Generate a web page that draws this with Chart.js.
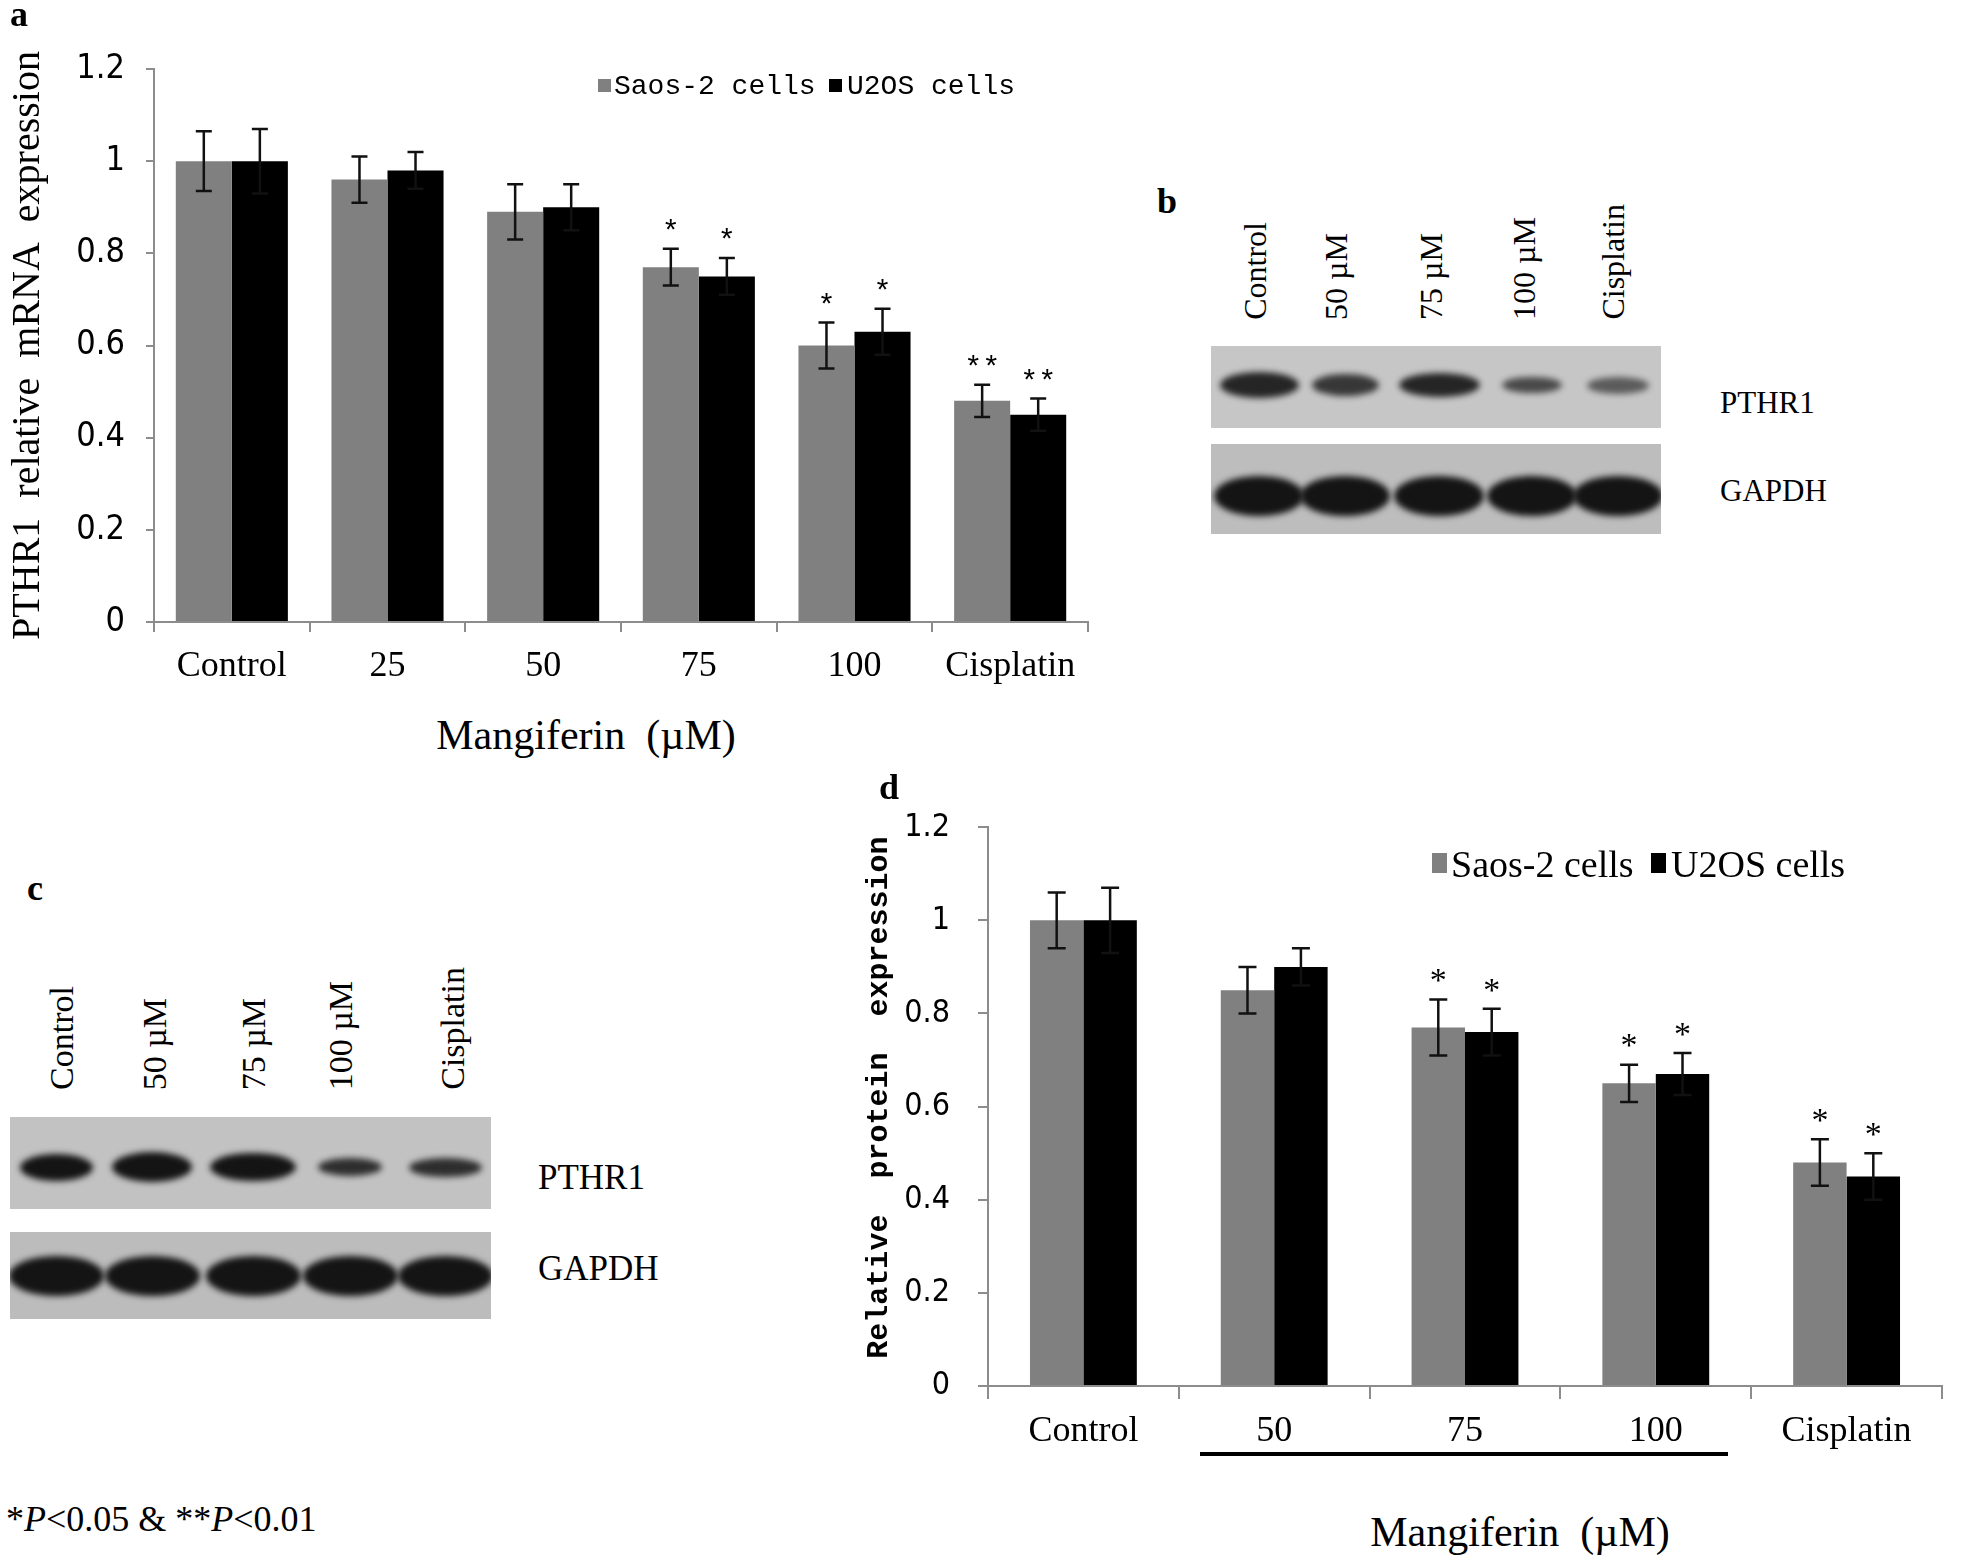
<!DOCTYPE html>
<html>
<head>
<meta charset="utf-8">
<script src="https://cdn.jsdelivr.net/npm/chart.js@4.4.1/dist/chart.umd.min.js"></script>
<style>
html, body { margin: 0; padding: 0; background: #fff; }
#page { position: relative; width: 1961px; height: 1561px; overflow: hidden; font-family: 'Liberation Serif', serif; color: #000; }
canvas { position: absolute; }
.t { position: absolute; white-space: pre; line-height: 1; }
.mid { transform: translateY(-50%); }
.ctr { transform: translate(-50%, -50%); }
.lane { position: absolute; writing-mode: vertical-rl; transform: translateX(-50%) rotate(180deg); white-space: pre; line-height: 1; }
.blot { position: absolute; overflow: hidden; }
.band { position: absolute; border-radius: 50%; background: #141414; filter: blur(3px); }
.key { position: absolute; }
</style>
</head>
<body>
<div id="page">
  <canvas id="chartA" width="1110" height="700" style="left:0;top:0;width:1110px;height:700px"></canvas>
  <canvas id="chartD" width="1110" height="700" style="left:845px;top:780px;width:1110px;height:700px"></canvas>
</div>
<script>
// values
const seriesNames = ['Saos-2 cells', 'U2OS cells']

const categoriesA = ['Control', '25', '50', '75', '100', 'Cisplatin']
const saosA = [1.00, 0.96, 0.89, 0.77, 0.60, 0.48]
const u2osA = [1.00, 0.98, 0.90, 0.75, 0.63, 0.45]
const saosErrA = [0.065, 0.05, 0.06, 0.04, 0.05, 0.035]
const u2osErrA = [0.07, 0.04, 0.05, 0.04, 0.05, 0.035]
const saosStarsA = ['', '', '', '*', '*', '**']
const u2osStarsA = ['', '', '', '*', '*', '**']

const categoriesD = ['Control', '50', '75', '100', 'Cisplatin']
const saosD = [1.00, 0.85, 0.77, 0.65, 0.48]
const u2osD = [1.00, 0.90, 0.76, 0.67, 0.45]
const saosErrD = [0.06, 0.05, 0.06, 0.04, 0.05]
const u2osErrD = [0.07, 0.04, 0.05, 0.045, 0.05]
const saosStarsD = ['', '', '*', '*', '*']
const u2osStarsD = ['', '', '*', '*', '*']

const yMax = 1.2
const yStep = 0.2

const laneLabels = ['Control', '50 µM', '75 µM', '100 µM', 'Cisplatin']
const blotRows = ['PTHR1', 'GAPDH']
// rough band darkness, by eye
const bandsB = [[0.9, 0.8, 0.9, 0.7, 0.6], [1, 1, 1, 1, 1]]
const bandsC = [[1, 1, 1, 0.85, 0.85], [1, 1, 1, 1, 1]]

const page = document.getElementById('page')
const axisGrey = '#8c8c8c'
const narrow = "'Liberation Sans Narrow', 'DejaVu Sans Condensed', 'Liberation Sans', sans-serif"
const mono = "'Liberation Mono', monospace"
const serif = "'Liberation Serif', serif"

Chart.defaults.color = '#000'
Chart.defaults.font.family = serif

const errorBars = {
    id: 'errorBars',
    afterDatasetsDraw(chart, args, opts) {
        const ctx = chart.ctx
        const y = chart.scales.y
        chart.data.datasets.forEach((ds, i) => {
            chart.getDatasetMeta(i).data.forEach((bar, j) => {
                const v = ds.data[j], e = ds.err[j]
                const top = y.getPixelForValue(v + e)
                const bot = y.getPixelForValue(v - e)
                ctx.save()
                ctx.strokeStyle = '#111'
                ctx.lineWidth = opts.lineWidth
                ctx.beginPath()
                ctx.moveTo(bar.x, top); ctx.lineTo(bar.x, bot)
                ctx.moveTo(bar.x - opts.cap, top); ctx.lineTo(bar.x + opts.cap, top)
                ctx.moveTo(bar.x - opts.cap, bot); ctx.lineTo(bar.x + opts.cap, bot)
                ctx.stroke()
                if (ds.stars[j]) {
                    ctx.fillStyle = '#000'
                    ctx.font = opts.size + 'px ' + opts.family
                    ctx.textAlign = 'center'
                    ctx.textBaseline = 'alphabetic'
                    ctx.fillText(ds.stars[j], bar.x, top - opts.gap + 0.55 * opts.size)
                }
                ctx.restore()
            })
        })
    }
}

function tickText(v) {
    return String(Math.round(v * 10) / 10)
}

function makeChart(id, cats, saos, u2os, saosErr, u2osErr, saosStars, u2osStars, s) {
    return new Chart(document.getElementById(id), {
        type: 'bar',
        data: {
            labels: cats,
            datasets: [
                { label: seriesNames[0], data: saos, err: saosErr, stars: saosStars, backgroundColor: '#808080',
                  categoryPercentage: s.catPct, barPercentage: 1 },
                { label: seriesNames[1], data: u2os, err: u2osErr, stars: u2osStars, backgroundColor: '#000',
                  categoryPercentage: s.catPct, barPercentage: 1 },
            ]
        },
        options: {
            responsive: false,
            animation: false,
            devicePixelRatio: 1,
            layout: { padding: { top: s.padTop, right: s.padRight, left: 0, bottom: 0 } },
            plugins: {
                legend: { display: false },
                tooltip: { enabled: false },
                errorBars: { cap: s.cap, lineWidth: 2.5, size: s.starSize, family: s.starFamily, gap: s.starGap },
            },
            scales: {
                x: {
                    grid: { display: true, drawOnChartArea: false, offset: true, tickLength: s.xTick, color: axisGrey, lineWidth: 2 },
                    border: { display: true, color: axisGrey, width: 2 },
                    ticks: { font: { family: serif, size: s.xFont }, padding: s.xPad, maxRotation: 0, autoSkip: false },
                    afterFit: (sc) => { sc.height = s.xHeight },
                },
                y: {
                    min: 0,
                    max: yMax,
                    grid: { display: true, drawOnChartArea: false, tickLength: s.yTick, color: axisGrey, lineWidth: 2 },
                    border: { display: true, color: axisGrey, width: 2 },
                    ticks: { stepSize: yStep, font: { family: narrow, size: s.yFont }, padding: s.yPad, callback: tickText },
                    title: { display: true, text: s.yTitle, font: s.titleFont, padding: { top: s.titlePad, bottom: 0 } },
                    afterFit: (sc) => { sc.width = s.yWidth },
                },
            },
        },
        plugins: [errorBars],
    })
}

makeChart('chartA', categoriesA, saosA, u2osA, saosErrA, u2osErrA, saosStarsA, u2osStarsA, {
    catPct: 0.72, padTop: 69, padRight: 22, xHeight: 78, yWidth: 154,
    xTick: 10, xFont: 36, xPad: 13, yTick: 8, yFont: 34, yPad: 21,
    yTitle: 'PTHR1  relative  mRNA  expression', titleFont: { family: serif, size: 40 }, titlePad: 4,
    cap: 8, starSize: 30, starFamily: mono, starGap: 24,
})

makeChart('chartD', categoriesD, saosD, u2osD, saosErrD, u2osErrD, saosStarsD, u2osStarsD, {
    catPct: 0.56, padTop: 45, padRight: 13, xHeight: 94, yWidth: 143,
    xTick: 13, xFont: 36, xPad: 11, yTick: 10, yFont: 32, yPad: 28,
    yTitle: ' Relative  protein  expression', titleFont: { family: mono, size: 30, weight: 'bold' }, titlePad: 16,
    cap: 9, starSize: 34, starFamily: serif, starGap: 27,
})

function text(str, x, y, css, cls) {
    const el = document.createElement('div')
    el.className = 't ' + (cls || 'mid')
    el.style.left = x + 'px'
    el.style.top = y + 'px'
    el.style.cssText += css
    el.innerHTML = str
    page.appendChild(el)
    return el
}

function box(x, y, w, h, color) {
    const el = document.createElement('div')
    el.className = 'key'
    el.style.cssText = `left:${x}px;top:${y}px;width:${w}px;height:${h}px;background:${color}`
    page.appendChild(el)
}

// panel letters
text('a', 10, 14, 'font:bold 36px ' + serif)
text('b', 1157, 201, 'font:bold 36px ' + serif)
text('c', 27, 888, 'font:bold 36px ' + serif)
text('d', 879, 787, 'font:bold 36px ' + serif)

// legends
box(598, 79, 13, 13, '#808080')
text(seriesNames[0], 614, 86, 'font:28px ' + mono)
box(829, 79, 13, 13, '#000')
text(seriesNames[1], 847, 86, 'font:28px ' + mono)

box(1432, 853, 15, 20, '#808080')
text(seriesNames[0], 1451, 864, 'font:38px ' + serif)
box(1651, 853, 15, 20, '#000')
text(seriesNames[1], 1671, 864, 'font:38px ' + serif)

// x axis titles
text('Mangiferin  (µM)', 586, 735, 'font:42px ' + serif, 'ctr')
box(1200, 1452, 528, 4, '#000')
text('Mangiferin  (µM)', 1520, 1532, 'font:42px ' + serif, 'ctr')

// footnote
text('*<i>P</i>&lt;0.05 &amp; **<i>P</i>&lt;0.01', 6, 1519, 'font:36px ' + serif)

// western blots
function drawBlot(b, strength) {
    b.rows.forEach((r, i) => {
        const el = document.createElement('div')
        el.className = 'blot'
        el.style.cssText = `left:${b.left}px;top:${r.top}px;width:${b.width}px;height:${r.height}px;background:${r.bg}`
        r.w.forEach((w, j) => {
            const band = document.createElement('div')
            band.className = 'band'
            const h = r.h[j]
            band.style.cssText = `left:${b.bandX[j] - b.left - w / 2}px;top:${r.cy - r.top - h / 2}px;width:${w}px;height:${h}px;opacity:${strength[i][j]}`
            el.appendChild(band)
        })
        page.appendChild(el)
        text(blotRows[i], b.labelX, r.labelY, 'font:' + b.labelFont + 'px ' + serif)
    })
    laneLabels.forEach((s, j) => {
        const el = document.createElement('div')
        el.className = 'lane'
        el.style.cssText = `left:${b.laneX[j]}px;bottom:${1561 - b.laneBottom}px;font:${b.laneFont}px ${serif}`
        el.textContent = s
        page.appendChild(el)
    })
}

drawBlot({
    left: 1211, width: 450, labelX: 1720, labelFont: 31,
    laneX: [1255, 1336, 1431, 1524, 1613], laneBottom: 320, laneFont: 32,
    bandX: [1259, 1345, 1439, 1532, 1618],
    rows: [
        { top: 346, height: 82, bg: '#c6c6c6', cy: 385, labelY: 403, w: [79, 67, 81, 60, 62], h: [26, 22, 24, 16, 17] },
        { top: 444, height: 90, bg: '#bdbdbd', cy: 496, labelY: 491, w: [90, 90, 90, 90, 90], h: [40, 40, 40, 40, 40] },
    ],
}, bandsB)

drawBlot({
    left: 10, width: 481, labelX: 538, labelFont: 35,
    laneX: [62, 155, 254, 341, 453], laneBottom: 1090, laneFont: 34,
    bandX: [56, 152, 253, 350, 445],
    rows: [
        { top: 1117, height: 92, bg: '#c2c2c2', cy: 1167, labelY: 1178, w: [73, 80, 86, 64, 73], h: [27, 30, 28, 18, 19] },
        { top: 1232, height: 87, bg: '#bcbcbc', cy: 1276, labelY: 1269, w: [95, 95, 95, 95, 95], h: [40, 40, 40, 40, 40] },
    ],
}, bandsC)
</script>
</body>
</html>
